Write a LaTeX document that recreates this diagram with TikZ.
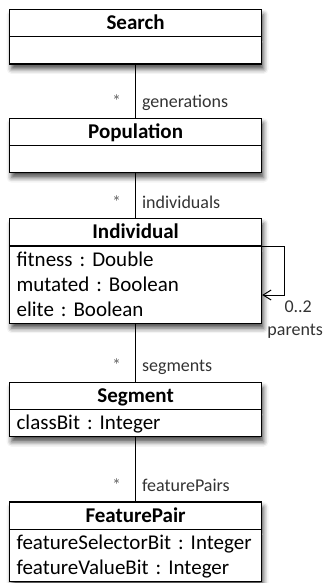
\documentclass[tikz,border=0pt]{standalone}
\usepackage{fontspec}
\setmainfont{Carlito}
\usetikzlibrary{positioning,shapes.multipart,arrows.meta,shadows.blur}

% fixed line height for class compartments
\newcommand{\umlstrut}{\rule[-6pt]{0pt}{25pt}}

\tikzset{
umlclass/.style={rectangle split, rectangle split parts=2,
  draw, line width=1.2pt, fill=white, text width=238pt, align=left,
  inner xsep=7pt, inner ysep=0.5pt,
  font=\fontsize{21}{25}\selectfont\frenchspacing,
  blur shadow={shadow xshift=2pt, shadow yshift=-5pt,
    shadow blur radius=5pt, shadow opacity=70}},
assoc/.style={line width=1pt},
mult/.style={anchor=base east, inner sep=0pt, text=black!60,
  font=\fontsize{18}{22}\selectfont, xshift=-14pt, yshift=10pt},
role/.style={anchor=base west, inner sep=0pt, text=black!80,
  font=\fontsize{18}{22}\selectfont, xshift=6pt, yshift=10pt},
selflabel/.style={anchor=base, inner sep=0pt, text=black!80,
  font=\fontsize{18}{22}\selectfont},
}

\begin{document}
\begin{tikzpicture}
\useasboundingbox (0,0) rectangle (323pt,-583pt);

% classes
\node[umlclass, anchor=north west] (search) at (9pt,-9pt)
{\centering\bfseries\umlstrut Search\par
 \nodepart{second}\umlstrut};

\node[umlclass, below=53pt of search] (population)
{\centering\bfseries\umlstrut Population\par
 \nodepart{second}\umlstrut};

\node[umlclass, below=45pt of population] (individual)
{\centering\bfseries\umlstrut Individual\par
 \nodepart{second}\umlstrut fitness : Double\\
 \umlstrut mutated : Boolean\\
 \umlstrut elite : Boolean};

\node[umlclass, below=58pt of individual] (segment)
{\centering\bfseries\umlstrut Segment\par
 \nodepart{second}\umlstrut classBit : Integer};

\node[umlclass, below=64pt of segment] (featurepair)
{\centering\bfseries\umlstrut FeaturePair\par
 \nodepart{second}\umlstrut featureSelectorBit : Integer\\
 \umlstrut featureValueBit : Integer};

% associations
\draw[assoc] (search) -- (population)
  node[mult, pos=1] {*} node[role, pos=1] {generations};
\draw[assoc] (population) -- (individual)
  node[mult, pos=1] {*} node[role, pos=1] {individuals};
\draw[assoc] (individual) -- (segment)
  node[mult, pos=1] {*} node[role, pos=1] {segments};
\draw[assoc] (segment) -- (featurepair)
  node[mult, pos=1] {*} node[role, pos=1] {featurePairs};

% parent links
\draw[assoc, -{Straight Barb[length=8pt,width=10pt]}]
  (individual.text split east) -- ++(22pt,0)
  |- ([yshift=-24pt]individual.east)
  node[selflabel, pos=1, xshift=36pt, yshift=-17pt] {0..2}
  node[selflabel, pos=1, xshift=33pt, yshift=-40pt] {parents};

\end{tikzpicture}
\end{document}
